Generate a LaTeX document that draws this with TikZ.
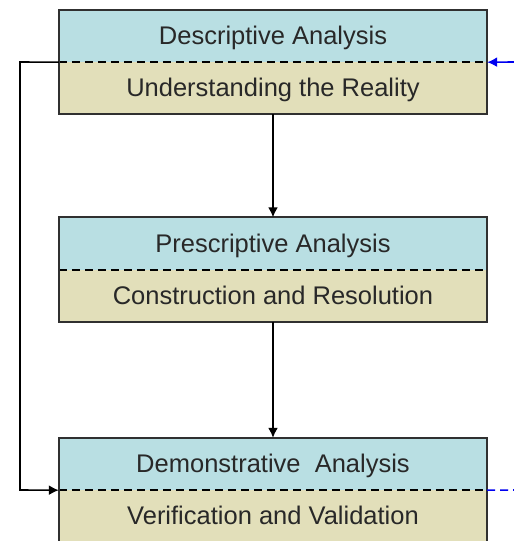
\documentclass[tikz,border=0pt]{standalone}
\usepackage{fontspec}
\setmainfont{Liberation Sans}
\usetikzlibrary{arrows.meta}
\definecolor{topfill}{HTML}{B9DFE3}
\definecolor{botfill}{HTML}{E2DFBA}
\definecolor{edge}{HTML}{303030}
\definecolor{txt}{HTML}{282828}
\definecolor{arrowblue}{HTML}{0000F0}
\begin{document}
\begin{tikzpicture}[x=1pt,y=-1pt,
  half/.style={rectangle, minimum width=428pt, minimum height=52pt, inner sep=0pt,
    text height=17pt, text depth=0pt,
    font=\fontsize{25.5}{29}\selectfont, text=txt},
  tophalf/.style={half, fill=topfill},
  bothalf/.style={half, fill=botfill},
  frame/.style={draw=edge, line width=2pt},
  divider/.style={line width=2pt, dash pattern=on 8pt off 5pt},
  conn/.style={draw=black, line width=1.6pt, -{Latex[length=10pt,width=10pt]}},
  inflow/.style={draw=arrowblue, line width=1.6pt, -{Latex[length=10pt,width=10pt]}},
  outflow/.style={draw=arrowblue, line width=1.6pt, dash pattern=on 8pt off 5pt}]
\useasboundingbox (0,0) rectangle (514,541);
% box 1
\node[tophalf] (t1) at (273,36) {Descriptive Analysis};
\node[bothalf] (b1) at (273,88) {Understanding the Reality};
% box 2
\node[tophalf] (t2) at (273,243.5) {Prescriptive Analysis};
\node[bothalf] (b2) at (273,295.5) {Construction and Resolution};
% box 3
\node[tophalf] (t3) at (273,464) {Demonstrative\ \ Analysis};
\node[bothalf] (b3) at (273,516) {Verification and Validation};
% dividers and frames
\foreach \i in {1,2,3}{
  \draw[divider] (t\i.south west) -- (t\i.south east);
  \draw[frame] (t\i.north west) rectangle (b\i.south east);
}
% vertical connectors
\draw[conn] (b1.south) -- (t2.north);
\draw[conn] (b2.south) -- (t3.north);
% feedback loop on the left
\coordinate (lA) at (20,62);
\coordinate (lB) at (20,490);
\draw[conn] (t1.south west) -- (lA) -- (lB) -- (t3.south west);
% blue inflow and outflow
\coordinate (inR) at (514,62);
\coordinate (outR) at (514,490);
\draw[inflow] (inR) -- (t1.south east);
\draw[outflow] (t3.south east) -- (outR);
\end{tikzpicture}
\end{document}
